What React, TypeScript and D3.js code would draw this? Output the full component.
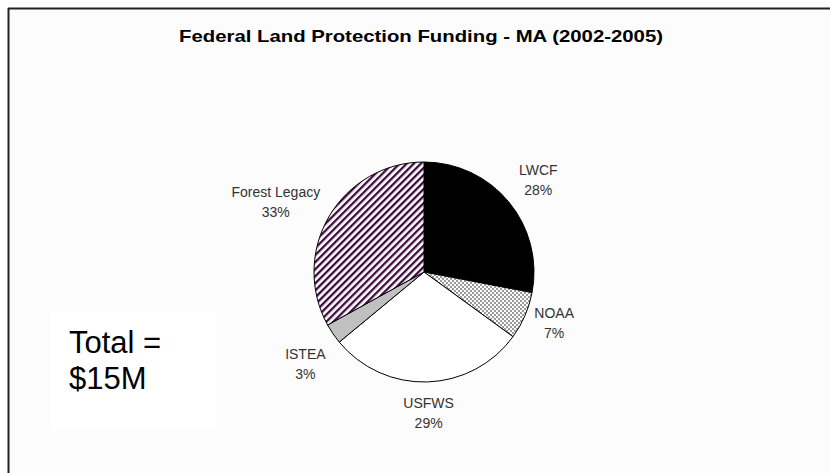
import React from "react";
import * as d3 from "d3";

const categories = ["LWCF", "NOAA", "USFWS", "ISTEA", "Forest Legacy"];
const shares = [28, 7, 29, 3, 33];
const percentLabels = ["28%", "7%", "29%", "3%", "33%"];
const fills = ["#000000", "url(#checker)", "#ffffff", "#c0c0c0", "url(#stripes)"];
const titleText = "Federal Land Protection Funding - MA (2002-2005)";
const totalLines = ["Total =", "$15M"];

// layout nudges for the data labels (pixels), keyed by category
const labelNudge: Record<string, [number, number]> = {
  LWCF: [5, -5],
  NOAA: [0, -3],
  USFWS: [0, 4],
  ISTEA: [-1, 15],
  "Forest Legacy": [-5, 0],
};

const W = 830;
const H = 473;
const cx = 424;
const cy = 272;
const r = 110;
const FONT = "Arial, 'Liberation Sans', sans-serif";

function textWidth(s: string, size: number): number {
  const map: Record<string, number> = {
    F: 0.611, o: 0.556, r: 0.333, e: 0.556, s: 0.5, t: 0.278, " ": 0.278,
    L: 0.556, g: 0.556, a: 0.556, c: 0.5, y: 0.5, W: 0.944, C: 0.722,
    N: 0.722, O: 0.778, A: 0.667, U: 0.722, S: 0.667, I: 0.278, T: 0.611, E: 0.667,
  };
  let w = 0;
  for (const ch of s) w += (map[ch] ?? 0.556) * size;
  return w;
}

export default function App() {
  const data = categories.map((c, i) => ({ name: c, value: shares[i], pct: percentLabels[i], fill: fills[i] }));
  const pie = d3.pie<any>().value((d) => d.value).sort(null).startAngle(0).endAngle(2 * Math.PI);
  const arcs = pie(data);
  const arc = d3.arc<any>().innerRadius(0).outerRadius(r);
  const fs = 14;
  const R = r + 12;

  return (
    <svg width={W} height={H} style={{ position: "absolute", left: 0, top: 0 }} fontFamily={FONT}>
      <defs>
        <pattern id="stripes" patternUnits="userSpaceOnUse" width={5} height={5} patternTransform="rotate(45)">
          <rect x={0} y={0} width={5} height={5} fill="#ffffff" />
          <rect x={0} y={0} width={2.3} height={5} fill="#3c0a3c" />
        </pattern>
        <pattern id="checker" patternUnits="userSpaceOnUse" width={4} height={4}>
          <rect x={0} y={0} width={4} height={4} fill="#ffffff" />
          <rect x={0} y={0} width={2} height={2} fill="#9a9a9a" />
          <rect x={2} y={2} width={2} height={2} fill="#9a9a9a" />
        </pattern>
      </defs>
      <rect x={0} y={0} width={W} height={H} fill="#ffffff" />
      <rect x={8} y={8} width={W} height={H} fill="#fcfcfc" />
      <line x1={8} y1={8.5} x2={W} y2={8.5} stroke="#222" strokeWidth={2} />
      <line x1={8.5} y1={8} x2={8.5} y2={H} stroke="#222" strokeWidth={2} />

      <text x={421} y={42} textAnchor="middle" fontWeight="bold" fontSize={16.5} fill="#000"
        textLength={484} lengthAdjust="spacingAndGlyphs">
        {titleText}
      </text>

      <g transform={`translate(${cx},${cy})`}>
        {arcs.map((a, i) => (
          <path key={i} d={arc(a) as string} fill={a.data.fill} stroke="#000" strokeWidth={1} strokeLinejoin="round" />
        ))}
      </g>

      {arcs.map((a, i) => {
        const mid = (a.startAngle + a.endAngle) / 2;
        const sx = Math.sin(mid);
        const cyv = Math.cos(mid);
        const px = cx + R * sx;
        const py = cy - R * cyv;
        const w = Math.max(textWidth(a.data.name, fs), textWidth(a.data.pct, fs));
        const h = 30;
        const nd = labelNudge[a.data.name] ?? [0, 0];
        const bx = px + (w / 2) * sx + nd[0];
        const by = py - (h / 2) * cyv + nd[1];
        return (
          <g key={"l" + i} fontSize={fs} fill="#333" textAnchor="middle">
            <text x={bx} y={by - 5}>{a.data.name}</text>
            <text x={bx} y={by + 15}>{a.data.pct}</text>
          </g>
        );
      })}

      <rect x={50} y={312} width={167} height={118} fill="#ffffff" />
      {totalLines.map((t, i) => (
        <text key={"t" + i} x={69} y={353 + i * 36} fontSize={31} fill="#000">
          {t}
        </text>
      ))}
    </svg>
  );
}
